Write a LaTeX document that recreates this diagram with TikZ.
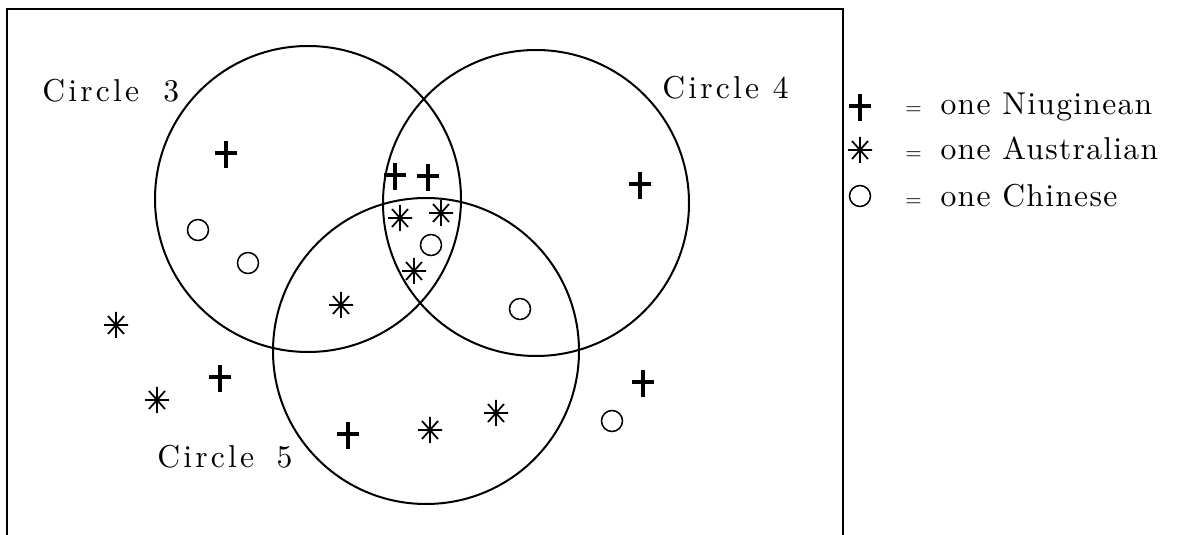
\documentclass[tikz,border=0pt]{standalone}
\usepackage{fontspec}
\usepackage{tikz}
\newfontfamily\ringfont{lmroman10-regular}[Extension=.otf, LetterSpace=10]
\newfontfamily\keyfont{lmroman10-regular}[Extension=.otf, LetterSpace=4]

\tikzset{
  ring/.style={draw, circle, line width=0.4mm, minimum size=61.2mm, inner sep=0pt},
  ringlabel/.style={font={\ringfont\fontsize{18}{22}\selectfont}, anchor=base west, inner sep=0pt},
  keylabel/.style={font={\keyfont\fontsize{18}{22}\selectfont}, anchor=base west, inner sep=0pt},
  niug/.pic={\draw[line width=0.95mm] (0,-13) -- (0,14); \draw[line width=0.65mm] (-11,-1) -- (11,-1);},
  aus/.pic={\draw[line width=0.35mm] (-12,0) -- (12,0) (0,-13) -- (0,13) (-8,-9) -- (8,9) (-8,9) -- (8,-9);
            \fill (0,0) circle[radius=0.5mm];},
  chin/.pic={\draw[line width=0.3mm] (0,0) circle[radius=2.1mm];}
}

\begin{document}
\begin{tikzpicture}[x=0.2mm, y=-0.2mm]
\useasboundingbox (0,0) rectangle (1180,535);
% frame (bottom edge runs off the page)
\draw[line width=0.4mm] (7,540) |- (843,9) -- (843,540);

% the three circles
\node[ring] (c3) at (308,199) {};
\node[ring] (c4) at (536,203) {};
\node[ring] (c5) at (426,351) {};

\node[ringlabel] (c3lbl) at (42,102) {Circle\hspace{6pt} 3};
\node[ringlabel] (c4lbl) at (662,99) {Circle 4};
\node[ringlabel] (c5lbl) at (157,468) {Circle\hspace{5pt} 5};

% Niugineans
\pic at (226,154) {niug};
\pic at (395,176) {niug};
\pic at (428,177) {niug};
\pic at (640,185) {niug};
\pic at (220,378) {niug};
\pic at (348,435) {niug};
\pic at (643,383) {niug};

% Australians
\pic at (400,218) {aus};
\pic at (441,213) {aus};
\pic at (414,271) {aus};
\pic at (341,305) {aus};
\pic at (116,325) {aus};
\pic at (157,400) {aus};
\pic at (430,430) {aus};
\pic at (496,413) {aus};

% Chinese
\pic at (198,230) {chin};
\pic at (248,263) {chin};
\pic at (431,245) {chin};
\pic at (520,309) {chin};
\pic at (612,421) {chin};

% key
\pic at (860,107) {niug};
\pic at (860,150) {aus};
\pic at (860,196) {chin};
\node[keylabel] (key1) at (905,115) {{\fontsize{12}{12}\selectfont=}\hspace{4pt} one Niuginean};
\node[keylabel] (key2) at (905,160) {{\fontsize{12}{12}\selectfont=}\hspace{4pt} one Australian};
\node[keylabel] (key3) at (905,207) {{\fontsize{12}{12}\selectfont=}\hspace{4pt} one Chinese};
\end{tikzpicture}
\end{document}
